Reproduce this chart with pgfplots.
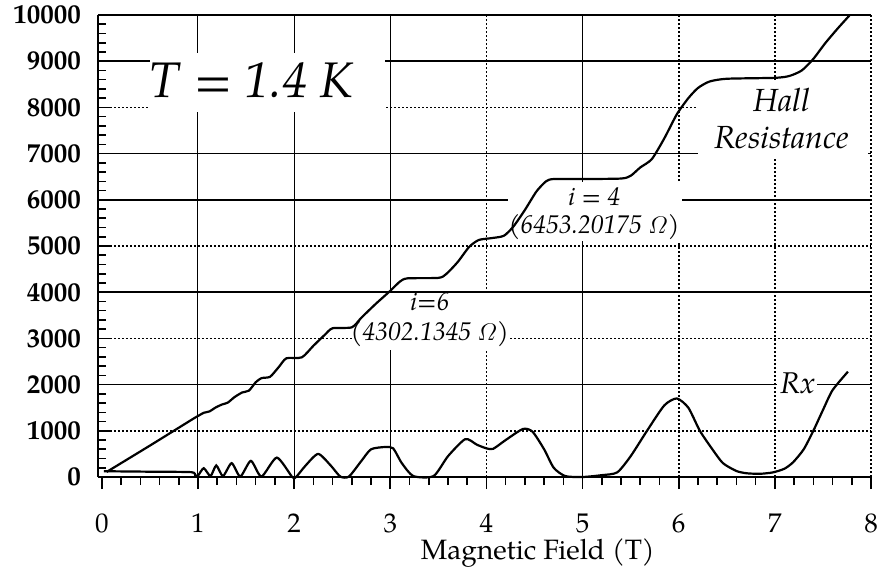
\documentclass[border=0pt]{standalone}
\usepackage{fontspec}
\setmainfont{TeX Gyre Pagella}
\usepackage{pgfplots}
\pgfplotsset{compat=1.18}
\tikzset{
  gs/.style={line width=0.75pt, black},
  gd/.style={line width=0.9pt, black, dash pattern=on 0.9pt off 1.1pt},
  vs/.style={line width=0.5pt, black},
}
\pgfplotstableread{
B R
0.05 110
0.50 680
0.95 1260
1.00 1320
1.06 1390
1.12 1420
1.18 1500
1.25 1570
1.31 1610
1.38 1730
1.46 1830
1.53 1870
1.60 2050
1.66 2140
1.75 2170
1.84 2380
1.92 2570
2.08 2590
2.20 2840
2.32 3080
2.40 3220
2.60 3240
2.70 3450
2.85 3750
3.00 4030
3.10 4230
3.18 4300
3.50 4310
3.58 4390
3.70 4650
3.82 4980
3.92 5130
4.05 5170
4.18 5220
4.28 5420
4.40 5780
4.52 6180
4.62 6400
4.70 6450
5.00 6450
5.40 6460
5.50 6520
5.60 6700
5.72 6880
5.85 7330
5.98 7850
6.10 8200
6.20 8420
6.32 8560
6.50 8620
7.00 8640
7.15 8680
7.28 8800
7.40 9050
7.52 9380
7.65 9700
7.78 10000
}\hall
\pgfplotstableread{
B R
0.02 125
0.50 115
0.93 105
0.97 40
1.00 30
1.06 190
1.13 20
1.19 250
1.26 20
1.35 300
1.44 10
1.55 350
1.66 10
1.82 420
1.98 0
2.02 0
2.12 250
2.25 500
2.38 250
2.48 10
2.57 10
2.70 350
2.80 600
2.95 650
3.03 620
3.12 300
3.24 20
3.45 20
3.60 450
3.78 820
3.90 700
4.00 620
4.07 610
4.20 800
4.38 1040
4.48 980
4.60 600
4.70 200
4.82 20
5.00 0
5.20 40
5.36 100
5.50 450
5.67 1000
5.85 1550
5.98 1700
6.10 1500
6.22 1000
6.35 600
6.46 300
6.60 130
6.71 80
6.85 70
6.98 100
7.10 180
7.19 320
7.30 600
7.40 1000
7.50 1450
7.60 1880
7.76 2280
}\rx
\begin{document}
\begin{tikzpicture}
\path[use as bounding box] (-49pt,-46pt) rectangle (392.5pt,238.5pt);
\begin{axis}[
  at={(0,0)}, anchor=south west,
  width=386.5pt, height=231pt, scale only axis,
  xmin=-0.04, xmax=8, ymin=0, ymax=10000,
  clip=false,
  axis line style={draw=none},
  xtick={0,...,8}, ytick={0,1000,...,10000},
  scaled y ticks=false, scaled x ticks=false,
  minor x tick num=4, minor y tick num=4,
  xtick pos=bottom, ytick pos=left,
  xtick align=outside, ytick align=inside,
  major tick length=6pt, minor tick length=4pt,
  tick style={black, line width=0.8pt},
  /pgf/number format/assume math mode=true,
  /pgf/number format/1000 sep={},
  xticklabel style={font=\fontsize{13.5}{13.5}\selectfont, inner sep=0pt, yshift=-12pt},
  yticklabel style={font=\bfseries\fontsize{13.5}{13.5}\selectfont, xshift=-5pt},
]
% horizontal grid
\draw[gd] (axis cs:-0.04,1000) -- (axis cs:8,1000);
\draw[gs] (axis cs:-0.04,2000) -- (axis cs:8,2000);
\draw[gd] (axis cs:-0.04,3000) -- (axis cs:8,3000);
\draw[gs] (axis cs:-0.04,4000) -- (axis cs:8,4000);
\draw[gd] (axis cs:-0.04,5000) -- (axis cs:8,5000);
\draw[gs] (axis cs:-0.04,6000) -- (axis cs:8,6000);
\draw[gs] (axis cs:-0.04,7000) -- (axis cs:8,7000);
\draw[gd] (axis cs:-0.04,8000) -- (axis cs:8,8000);
\draw[gs] (axis cs:-0.04,9000) -- (axis cs:8,9000);
% vertical grid
\draw[vs] (axis cs:1,0) -- (axis cs:1,10000);
\draw[vs] (axis cs:2,0) -- (axis cs:2,10000);
\draw[vs] (axis cs:3,0) -- (axis cs:3,10000);
\draw[gd] (axis cs:4,0) -- (axis cs:4,10000);
\draw[vs] (axis cs:5,0) -- (axis cs:5,10000);
\draw[gd] (axis cs:6,0) -- (axis cs:6,10000);
\draw[gd] (axis cs:7,0) -- (axis cs:7,10000);
% white boxes behind labels
\fill[white] (axis cs:0.50,7900) rectangle (axis cs:2.94,9180);
\fill[white] (axis cs:6.20,6900) rectangle (axis cs:7.97,8590);
\fill[white] (axis cs:4.22,5100) rectangle (axis cs:6.03,6385);
\fill[white] (axis cs:2.61,2750) rectangle (axis cs:4.22,3980);
\fill[white] (axis cs:7.02,1700) rectangle (axis cs:7.44,2400);
% axis frame
\draw[line width=1pt] (axis cs:-0.04,0) -- (axis cs:8,0);
\draw[line width=1pt] (axis cs:-0.04,0) -- (axis cs:-0.04,10000);
\draw[line width=0.9pt] (axis cs:-0.04,10000) -- (axis cs:8,10000);
\draw[gd] (axis cs:8,0) -- (axis cs:8,10000);
% curves
\addplot[black, line width=1.1pt, smooth, tension=0.4] table[x=B, y=R] {\hall};
\addplot[black, line width=1.1pt, smooth, tension=0.4] table[x=B, y=R] {\rx};
% labels
\node[font=\fontsize{25}{25}\selectfont] at (axis cs:1.56,8593) {\textit{T} = \textit{1.4 K}};
\node[font=\itshape\fontsize{16}{18.5}\selectfont, align=center] at (axis cs:7.07,7770) {Hall\\Resistance};
\node[font=\itshape\fontsize{12.8}{14}\selectfont, align=center, inner sep=0pt] at (axis cs:5.12,5693) {i = 4\\(6453.20175 $\mathnormal{\Omega}$)};
\node[font=\itshape\fontsize{12.8}{15}\selectfont, align=center, inner sep=0pt] at (axis cs:3.41,3398) {i=6\\(4302.1345 $\mathnormal{\Omega}$)};
\node[font=\itshape\fontsize{15}{15}\selectfont] at (axis cs:7.24,2035) {Rx};
\node[font=\fontsize{14}{14}\selectfont, inner sep=0pt] at (rel axis cs:0.569,0) [yshift=-38pt] {Magnetic Field (T)};
\end{axis}
\end{tikzpicture}
\end{document}
